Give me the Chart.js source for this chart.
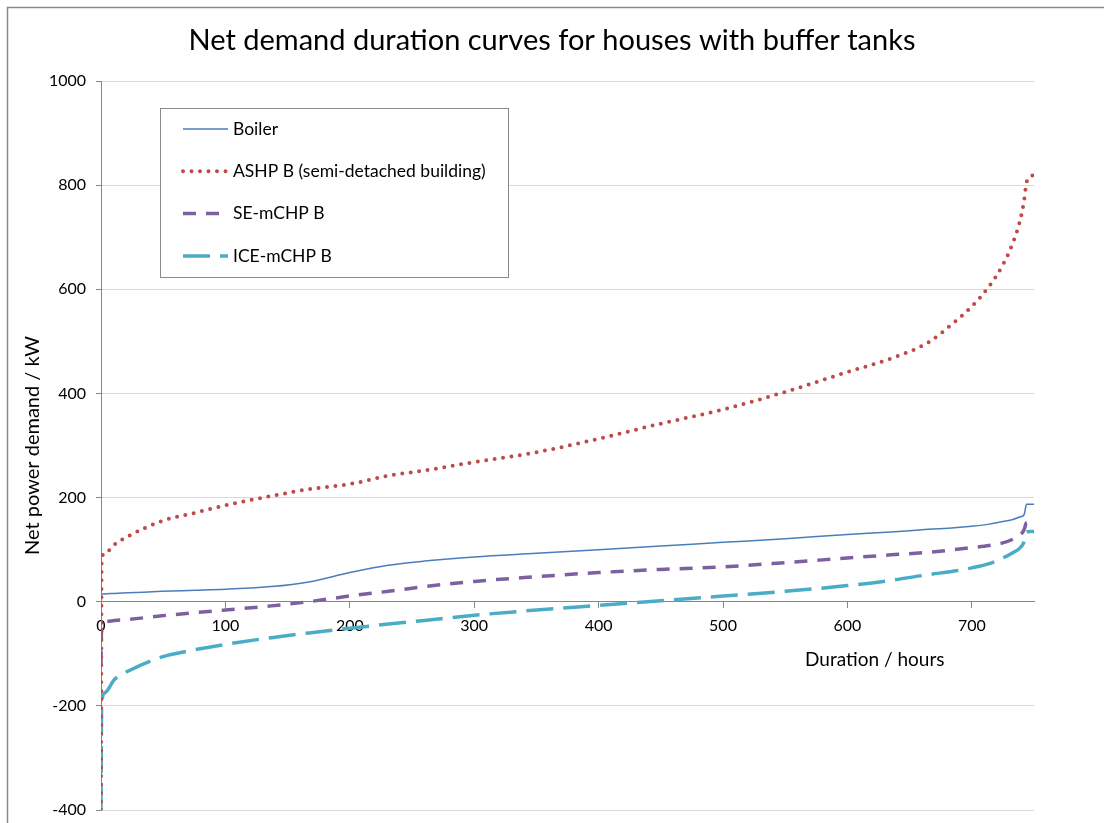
<!DOCTYPE html>
<html>
<head>
<meta charset="utf-8">
<script src="https://cdn.jsdelivr.net/npm/chart.js@4.4.1/dist/chart.umd.min.js"></script>
<style>
  html, body { margin: 0; padding: 0; background: #fff; }
  canvas { display: block; }
</style>
</head>
<body>
<canvas id="ex_chart" width="1104" height="823"></canvas>
<script>
// duration (hours) sampled along the curves
let hours = [0, 0.5, 3, 11, 22, 49, 76, 100, 137, 167, 200, 231, 260, 300, 350, 400, 450, 500,
             550, 600, 635, 665, 686, 700, 714, 725, 733, 739, 742, 744, 747, 750];

let boiler = [15, 15, 15, 16, 17, 20, 22, 24, 29, 38, 56, 70, 78, 86, 93, 100, 107, 114,
              121, 129, 134, 139, 142, 145, 149, 154, 158, 163, 167, 187, 187, 187];
let ashp   = [-400, 81, 93, 110, 126, 155, 171, 185, 203, 216, 226, 242, 252, 268, 287, 313, 342, 369,
              403, 441, 467, 498, 537, 567, 606, 647, 689, 734, 770, 805, 816, 820];
let seChp  = [-120, -50, -39, -36, -34, -27, -21, -16, -8, 0, 11, 20, 29, 39, 48, 56, 62, 67,
              75, 84, 90, 95, 100, 104, 108, 113, 120, 128, 138, 152, 153, 153];
let iceChp = [-400, -200, -175, -149, -133, -106, -92, -82, -69, -60, -51, -43, -36, -26, -16, -7, 2, 11,
              20, 31, 41, 52, 59, 65, 73, 84, 94, 104, 115, 134, 135, 135];

let seriesNames = ['Boiler', 'ASHP B (semi-detached building)', 'SE-mCHP B', 'ICE-mCHP B'];
let yTicks = [-400, -200, 0, 200, 400, 600, 800, 1000];
let xTicks = [0, 100, 200, 300, 400, 500, 600, 700];

function pts(vals) {
  return hours.map((h, i) => ({ x: h, y: vals[i] }));
}

const FONT = 'Lato, "Liberation Sans", sans-serif';

// outer frame (only top and left edges are inside the picture) + title
const frame = {
  id: 'frame',
  beforeDraw(chart) {
    const c = chart.ctx;
    c.save();
    c.fillStyle = '#fff';
    c.fillRect(0, 0, chart.width, chart.height);
    c.strokeStyle = '#8a8a8a';
    c.lineWidth = 1.5;
    c.beginPath();
    c.moveTo(7.5, chart.height);
    c.lineTo(7.5, 7.5);
    c.lineTo(chart.width, 7.5);
    c.stroke();
    c.fillStyle = '#000';
    c.font = '29px ' + FONT;
    c.textAlign = 'center';
    c.textBaseline = 'middle';
    c.fillText('Net demand duration curves for houses with buffer tanks', chart.width / 2, 41);
    c.restore();
  }
};

// boxed legend inside the plot and the x axis title
const boxLegend = {
  id: 'boxLegend',
  afterDatasetsDraw(chart) {
    const c = chart.ctx;
    c.save();
    c.fillStyle = '#fff';
    c.fillRect(160, 108, 348, 169);
    c.strokeStyle = '#8a8a8a';
    c.lineWidth = 1;
    c.strokeRect(160.5, 108.5, 348, 169);
    chart.data.datasets.forEach((ds, i) => {
      const y = 129 + i * 42.3;
      c.beginPath();
      c.setLineDash(ds.borderDash || []);
      c.lineCap = ds.borderCapStyle || 'butt';
      c.strokeStyle = ds.borderColor;
      c.lineWidth = ds.borderWidth;
      c.moveTo(183, y);
      c.lineTo(228, y);
      c.stroke();
      c.setLineDash([]);
      c.fillStyle = '#000';
      c.font = '17.5px ' + FONT;
      c.textBaseline = 'middle';
      c.textAlign = 'left';
      c.fillText(ds.label, 233, y);
    });
    // x axis title sits under the tick labels, toward the right
    const xs = chart.scales.x, ys = chart.scales.y;
    c.font = '19px ' + FONT;
    c.textAlign = 'center';
    c.textBaseline = 'middle';
    c.fillText('Duration / hours', xs.getPixelForValue(622), ys.getPixelForValue(0) + 58);
    c.restore();
  }
};

function noPad(s) {
  s.paddingTop = 0;
  s.paddingBottom = 0;
  s.paddingLeft = 0;
  s.paddingRight = 0;
}

let ctx = document.getElementById('ex_chart');

let data = {
  datasets: [
    {
      label: seriesNames[0],
      data: pts(boiler),
      borderColor: '#4a7ebb',
      borderWidth: 1.5,
      order: 4
    },
    {
      label: seriesNames[1],
      data: pts(ashp),
      borderColor: '#be4b48',
      borderWidth: 4,
      borderDash: [0, 8.5],
      borderCapStyle: 'round',
      order: 1
    },
    {
      label: seriesNames[2],
      data: pts(seChp),
      borderColor: '#7d60a0',
      borderWidth: 3.5,
      borderDash: [13, 10],
      order: 3
    },
    {
      label: seriesNames[3],
      data: pts(iceChp),
      borderColor: '#4bacc6',
      borderWidth: 3.5,
      borderDash: [27, 10],
      order: 2
    }
  ]
};

let options = {
  responsive: false,
  animation: false,
  layout: { padding: { left: 0, top: 81, right: 70, bottom: 13 } },
  elements: {
    point: { radius: 0 },
    line: { fill: false, cubicInterpolationMode: 'monotone' }
  },
  plugins: {
    legend: { display: false },
    tooltip: { enabled: false },
    title: { display: false }
  },
  scales: {
    x: {
      type: 'linear',
      position: { y: 0 },
      min: 0,
      max: 750,
      afterFit: s => { s.height = 0; noPad(s); },
      afterBuildTicks: s => { s.ticks = xTicks.map(v => ({ value: v })); },
      ticks: {
        color: '#000',
        font: { family: FONT, size: 16 },
        padding: 9,
        maxRotation: 0,
        callback: v => String(v)
      },
      grid: {
        drawOnChartArea: false,
        tickLength: 6,
        tickColor: '#868686'
      },
      border: { color: '#868686', width: 1 }
    },
    y: {
      type: 'linear',
      min: -400,
      max: 1000,
      afterFit: s => { s.width = 101; noPad(s); },
      afterBuildTicks: s => { s.ticks = yTicks.map(v => ({ value: v })); },
      ticks: {
        color: '#000',
        font: { family: FONT, size: 16 },
        padding: 10,
        callback: v => String(v)
      },
      grid: {
        color: '#d9d9d9',
        tickLength: 5,
        tickColor: '#868686'
      },
      border: { color: '#868686', width: 1 },
      title: {
        display: true,
        text: 'Net power demand / kW',
        color: '#000',
        font: { family: FONT, size: 20 },
        padding: { top: 21, bottom: 0 }
      }
    }
  }
};

let ex_chart = new Chart(ctx, {
  type: 'line',
  data: data,
  options: options,
  plugins: [frame, boxLegend]
});
</script>
</body>
</html>
